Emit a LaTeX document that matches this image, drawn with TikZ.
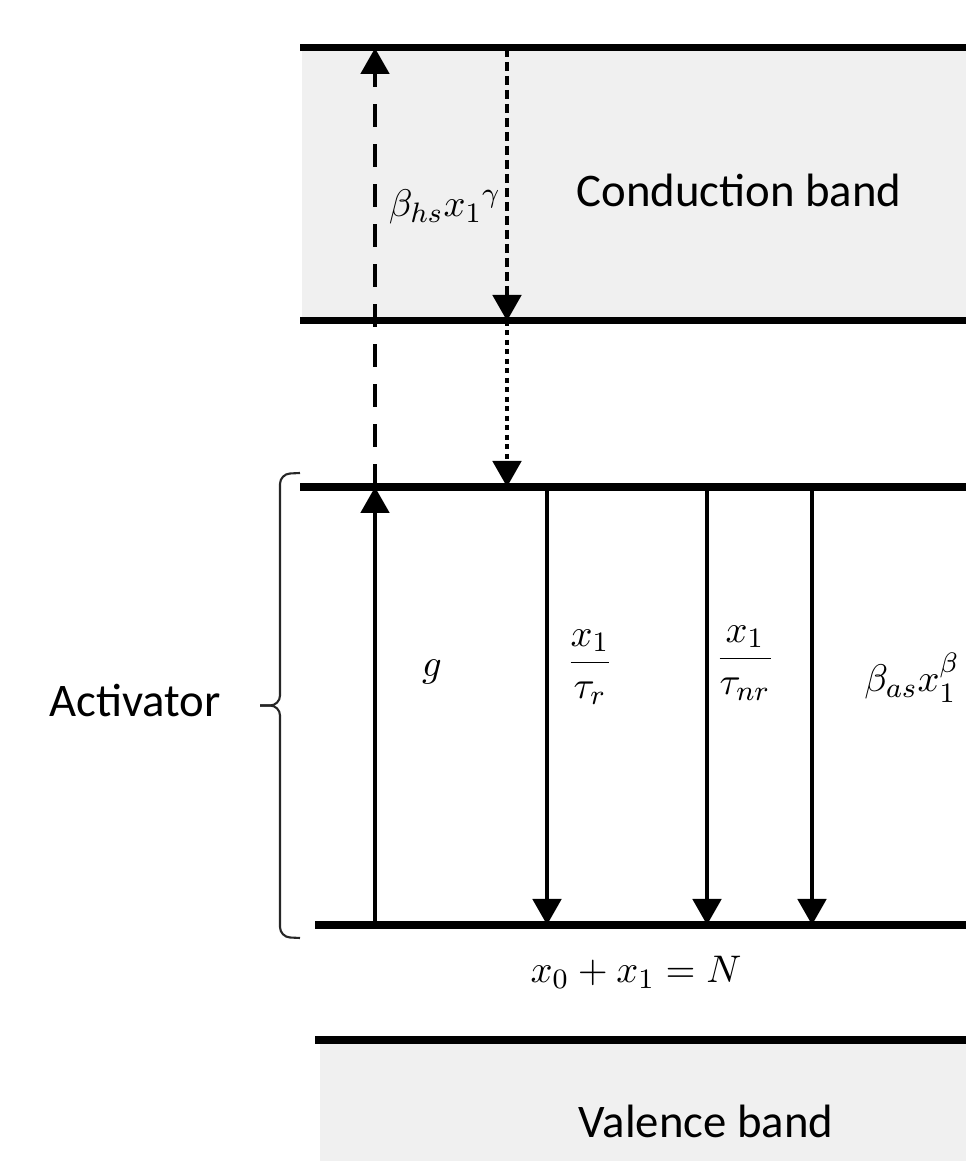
\documentclass[tikz,border=0pt]{standalone}
\usepackage{amsmath}
\usepackage{fontspec}
\setmainfont{Carlito}
\usepackage{tikz}
\usetikzlibrary{arrows.meta}
\tikzset{every node/.style={font=\fontsize{13.3}{16}\selectfont}}
\colorlet{bandcol}{black!6}
\colorlet{levelcol}{black}
\colorlet{bracecol}{black!85}

\begin{document}
\begin{tikzpicture}[>={Triangle[length=0.26cm, width=0.28cm]},
  level/.style={line width=2pt, levelcol},
  trans/.style={line width=1.4pt, ->},
  rate/.style={font=\fontsize{10.8}{13}\selectfont},
  longdash/.style={dash pattern=on 0.23cm off 0.17cm},
  shortdash/.style={dash pattern=on 0.09cm off 0.05cm},
  squaredot/.style={dash pattern=on 0.05cm off 0.045cm}]

  \useasboundingbox (0,0) rectangle (9.66,11.61);

  % Band backgrounds.
  \fill[bandcol] (3.02,8.40) rectangle (9.66,11.13);
  \fill[bandcol] (3.20,0) rectangle (9.66,1.21);

  % Energy levels.
  \coordinate (rightedge) at (9.66,0);
  \coordinate (cbtop) at (3.00,11.13);
  \coordinate (cbbot) at (3.00,8.40);
  \coordinate (actop) at (3.00,6.74);
  \coordinate (acbot) at (3.15,2.36);
  \coordinate (vbtop) at (3.15,1.21);
  \foreach \lev in {cbtop,cbbot,actop,acbot,vbtop} {
    \draw[level] (\lev) -- (\lev -| rightedge);
  }

  % Columns of the transitions.
  \coordinate (gcol)  at (3.75,0);
  \coordinate (hscol) at (5.07,0);
  \coordinate (rcol)  at (5.47,0);
  \coordinate (nrcol) at (7.07,0);
  \coordinate (ascol) at (8.12,0);

  % Excitation g, then on into the conduction band.
  \draw[trans] (gcol |- acbot) -- (gcol |- actop);
  \draw[trans, longdash] (gcol |- actop) -- (gcol |- cbtop);

  % Way back from the conduction band.
  \draw[trans, shortdash] (hscol |- cbtop) -- (hscol |- cbbot);
  \draw[trans, squaredot] (hscol |- cbbot) -- (hscol |- actop);

  % Decay channels.
  \foreach \col in {rcol,nrcol,ascol} {
    \draw[trans] (\col |- actop) -- (\col |- acbot);
  }

  % Band and rate labels.
  \node (cblabel) at (7.39,9.71) {Conduction band};
  \node (vblabel) at (7.06,0.40) {Valence band};
  \node[rate] (hslabel) at (4.45,9.54) {$\beta_{hs}{x_1}^{\gamma}$};
  \node[rate] (glabel) at (4.32,4.89) {$g$};
  \node[rate] (rlabel) at (5.90,4.94) {$\dfrac{x_1}{\tau_r}$};
  \node[rate] (nrlabel) at (7.45,4.98) {$\dfrac{x_1}{\tau_{nr}}$};
  \node[rate] (aslabel) at (9.12,4.83) {$\beta_{as}x_1^{\beta}$};
  \node[rate] (sumlabel) at (6.36,1.89) {$x_0 + x_1 = N$};

  % Activator brace.
  \coordinate (brbot) at (3.00,2.23);
  \coordinate (brtop) at (3.00,6.88);
  \coordinate (brtip) at (2.60,4.555);
  \draw[line width=0.6pt, bracecol, rounded corners=0.1cm]
    (brtop) -- (2.80,6.87) -- (2.80,4.555) -- (brtip);
  \draw[line width=0.6pt, bracecol, rounded corners=0.1cm]
    (brbot) -- (2.80,2.24) -- (2.80,4.555) -- (brtip);
  \node[anchor=east] (actlabel) at (2.33,4.60) {Activator};

\end{tikzpicture}
\end{document}
